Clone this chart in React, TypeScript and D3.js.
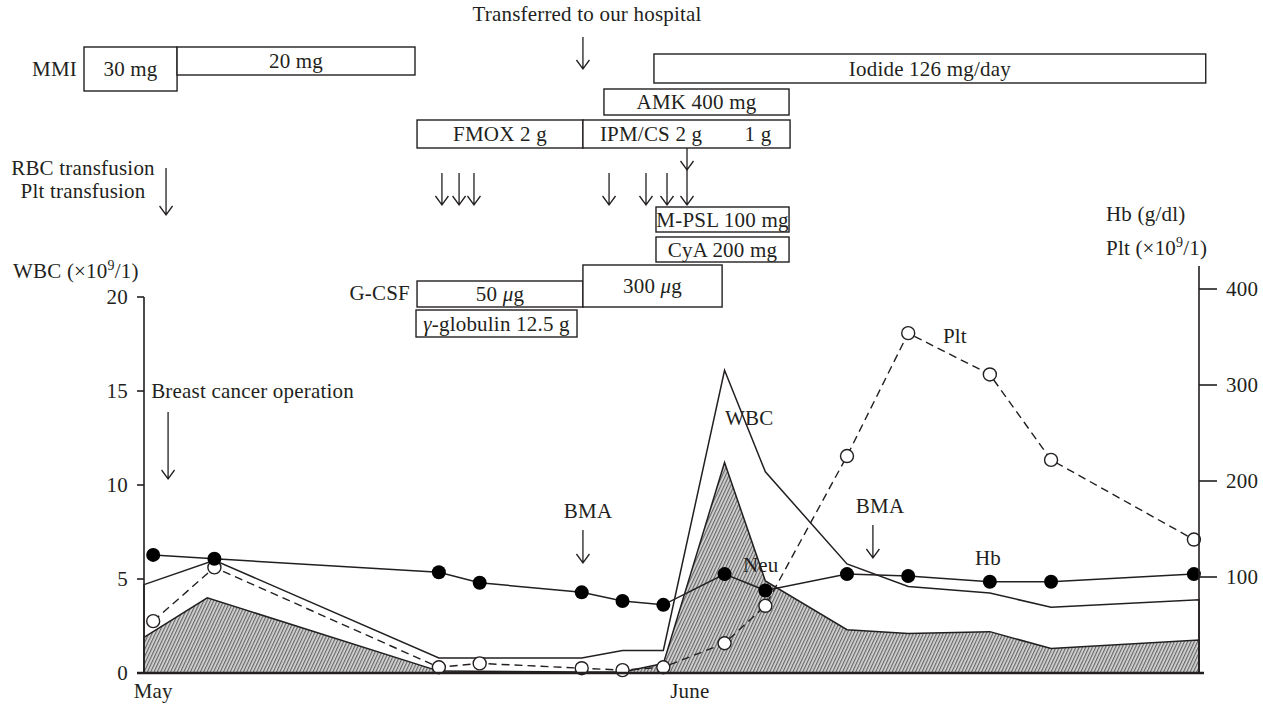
import React from "react";
import * as d3 from "d3";

const FONT = "'Liberation Serif', 'Times New Roman', serif";
const INK = "#231f20";

// sampling days, day 0 = first sample in May
const sampleDays = [0, 3, 14, 16, 21, 23, 25, 28, 30, 34, 37, 41, 44, 51];
const hbValues = [12.3, 11.9, 10.5, 9.4, 8.4, 7.5, 7.1, 10.3, 8.6, 10.3, 10.1, 9.5, 9.5, 10.3];
const pltValues = [54, 110, 6, 10, 5, 3, 6, 31, 70, 226, 354, 311, 222, 139];

const wbcDays = [-0.45, 3, 14, 21, 23, 25, 28, 30, 34, 37, 41, 44, 51.25];
const wbcValues = [4.7, 6.0, 0.8, 0.8, 1.2, 1.2, 16.1, 10.7, 5.8, 4.6, 4.25, 3.5, 3.9];
const neuDays = [-0.45, 2.65, 14, 21, 23, 25, 28, 30, 34, 37, 41, 44, 51.25];
const neuValues = [1.9, 4.0, 0.1, 0.05, 0.05, 0.5, 11.2, 4.9, 2.3, 2.1, 2.2, 1.3, 1.75];

const wbcTicks = [0, 5, 10, 15, 20];
const rightTicks = [100, 200, 300, 400];
const months = [
  { label: "May", day: 0 },
  { label: "June", day: 26.3 },
];

// treatment boxes (start / end in days)
const treatments = [
  { label: "30 mg", start: -3.39, end: 1.17, row: "mmi30" },
  { label: "20 mg", start: 1.17, end: 12.83, row: "mmi20" },
  { label: "Iodide 126 mg/day", start: 24.54, end: 51.58, row: "iodide" },
  { label: "AMK 400 mg", start: 22.09, end: 31.16, row: "amk" },
  { label: "FMOX 2 g", start: 12.93, end: 21.06, row: "abx" },
  { label: "", start: 21.06, end: 31.21, row: "abx" },
  { label: "M-PSL 100 mg", start: 24.64, end: 31.16, row: "mpsl" },
  { label: "CyA 200 mg", start: 24.64, end: 31.16, row: "cya" },
  { label: "50 μg", start: 12.93, end: 21.06, row: "gcsf50" },
  { label: "300 μg", start: 21.06, end: 27.88, row: "gcsf300" },
  { label: "γ-globulin 12.5 g", start: 12.88, end: 20.77, row: "glob" },
];
const boxNotes = [
  { label: "IPM/CS 2 g", day: 24.4, row: "abx" },
  { label: "1 g", day: 29.64, row: "abx" },
];

const rows: Record<string, [number, number]> = {
  mmi30: [47, 44],
  mmi20: [47, 28],
  iodide: [54, 29],
  amk: [89, 26],
  abx: [120, 28],
  mpsl: [207, 25],
  cya: [237, 25],
  gcsf50: [281, 26],
  gcsf300: [265, 42],
  glob: [310, 27],
};

// event arrows: day, top, bottom (px)
const arrows = [
  { day: 21.06, y1: 37, y2: 69 },
  { day: 0.63, y1: 168, y2: 215 },
  { day: 14.15, y1: 173, y2: 205 },
  { day: 14.99, y1: 173, y2: 205 },
  { day: 15.72, y1: 173, y2: 205 },
  { day: 22.34, y1: 173, y2: 205 },
  { day: 24.15, y1: 173, y2: 205 },
  { day: 25.18, y1: 173, y2: 205 },
  { day: 26.16, y1: 148, y2: 170 },
  { day: 26.16, y1: 170, y2: 205 },
  { day: 0.73, y1: 412, y2: 479 },
  { day: 21.06, y1: 530, y2: 563 },
  { day: 35.27, y1: 525, y2: 558 },
];

const notes = [
  { text: "Transferred to our hospital", day: 21.26, y: 21, anchor: "middle" },
  { text: "Breast cancer operation", day: -0.1, y: 398, anchor: "start" },
  { text: "BMA", day: 21.31, y: 518, anchor: "middle" },
  { text: "BMA", day: 35.62, y: 513, anchor: "middle" },
  { text: "WBC", day: 28.02, y: 425, anchor: "start" },
  { text: "Neu", day: 28.9, y: 572, anchor: "start" },
  { text: "Plt", day: 38.7, y: 343, anchor: "start" },
  { text: "Hb", day: 40.27, y: 565, anchor: "start" },
];

const renderLabel = (s: string) =>
  s.split(/([μγ])/).map((part, i) =>
    part === "μ" || part === "γ" ? (
      <tspan key={i} fontStyle="italic">
        {part}
      </tspan>
    ) : (
      <tspan key={i}>{part}</tspan>
    )
  );

const App = () => {
  const width = 1263;
  const height = 706;

  const x = d3.scaleLinear().domain([-0.45, 51.25]).range([144, 1199]);
  const yL = d3.scaleLinear().domain([0, 20]).range([673, 297]);
  const yR = d3.scaleLinear().domain([0, 400]).range([673, 289]);
  const yHb = d3.scaleLinear().domain([0, 40]).range([673, 289]);

  const wbcPts = wbcDays.map((d, i) => [d, wbcValues[i]] as [number, number]);
  const neuPts = neuDays.map((d, i) => [d, neuValues[i]] as [number, number]);
  const pltPts = sampleDays.map((d, i) => [d, pltValues[i]] as [number, number]);
  const hbPts = sampleDays.map((d, i) => [d, hbValues[i]] as [number, number]);

  const area = d3
    .area<[number, number]>()
    .x((d) => x(d[0]))
    .y0(yL(0))
    .y1((d) => yL(d[1]));
  const pltLine = d3
    .line<[number, number]>()
    .x((d) => x(d[0]))
    .y((d) => yR(d[1]));
  const hbLine = d3
    .line<[number, number]>()
    .x((d) => x(d[0]))
    .y((d) => yHb(d[1]));

  const arrowPath = (ax: number, y1: number, y2: number) =>
    `M ${ax} ${y1} V ${y2} M ${ax - 6.5} ${y2 - 9} L ${ax} ${y2} L ${ax + 6.5} ${y2 - 9}`;

  return (
    <svg
      width={width}
      height={height}
      style={{ position: "absolute", left: 0, top: 0, background: "#fff" }}
      fontFamily={FONT}
      fontSize={21}
      letterSpacing={0.2}
      fill={INK}
    >
      <defs>
        <pattern
          id="hatch"
          width="3"
          height="3"
          patternUnits="userSpaceOnUse"
          patternTransform="rotate(25)"
        >
          <rect width="3" height="3" fill="#d6d6d6" />
          <line x1="0.6" y1="0" x2="0.6" y2="3" stroke="#666" strokeWidth="1.2" />
        </pattern>
      </defs>

      {/* treatment boxes */}
      {treatments.map((t, i) => {
        const [top, h] = rows[t.row];
        const x0 = x(t.start);
        const x1 = x(t.end);
        return (
          <g key={i}>
            <rect x={x0} y={top} width={x1 - x0} height={h} fill="#fff" stroke={INK} strokeWidth={1.4} />
            {t.label && (
              <text x={(x0 + x1) / 2} y={top + h / 2 + 7} textAnchor="middle">
                {renderLabel(t.label)}
              </text>
            )}
          </g>
        );
      })}
      {boxNotes.map((n, i) => {
        const [top, h] = rows[n.row];
        return (
          <text key={i} x={x(n.day)} y={top + h / 2 + 7} textAnchor="middle">
            {n.label}
          </text>
        );
      })}

      {/* row titles */}
      <text x={77} y={76} textAnchor="end">MMI</text>
      <text x={83} y={175} textAnchor="middle">RBC transfusion</text>
      <text x={83} y={198} textAnchor="middle">Plt transfusion</text>
      <text x={410} y={300} textAnchor="end">G-CSF</text>

      {/* arrows */}
      {arrows.map((a, i) => (
        <path key={i} d={arrowPath(x(a.day), a.y1, a.y2)} fill="none" stroke={INK} strokeWidth={1.3} />
      ))}

      {/* WBC and Neu */}
      <path d={area(wbcPts) || ""} fill="none" stroke={INK} strokeWidth={1.5} />
      <path d={area(neuPts) || ""} fill="url(#hatch)" stroke={INK} strokeWidth={1.5} />

      {/* Plt and Hb lines */}
      <path d={pltLine(pltPts) || ""} fill="none" stroke={INK} strokeWidth={1.4} strokeDasharray="8,5" />
      <path d={hbLine(hbPts) || ""} fill="none" stroke={INK} strokeWidth={1.5} />
      {pltPts.map((d, i) => (
        <circle key={"p" + i} cx={x(d[0])} cy={yR(d[1])} r={6.5} fill="#fff" stroke={INK} strokeWidth={1.4} />
      ))}
      {hbPts.map((d, i) => (
        <circle key={"h" + i} cx={x(d[0])} cy={yHb(d[1])} r={7} fill="#000" />
      ))}

      {/* axes */}
      <line x1={144} x2={144} y1={yL(20)} y2={yL(0)} stroke={INK} strokeWidth={1.6} />
      {wbcTicks.map((t) => (
        <g key={t}>
          <line x1={137} x2={144} y1={yL(t)} y2={yL(t)} stroke={INK} strokeWidth={1.6} />
          <text x={128} y={yL(t) + 7} textAnchor="end">
            {t}
          </text>
        </g>
      ))}
      <line x1={1199} x2={1199} y1={yR(424)} y2={yR(0)} stroke={INK} strokeWidth={1.6} />
      {rightTicks.map((t) => (
        <g key={t}>
          <line x1={1199} x2={1217} y1={yR(t)} y2={yR(t)} stroke={INK} strokeWidth={1.6} />
          <text x={1226} y={yR(t) + 7} textAnchor="start">
            {t}
          </text>
        </g>
      ))}
      <line x1={137} x2={1204} y1={yL(0)} y2={yL(0)} stroke={INK} strokeWidth={2.6} />
      {months.map((m) => (
        <text key={m.label} x={x(m.day)} y={698} textAnchor="middle">
          {m.label}
        </text>
      ))}

      {/* axis titles */}
      <text x={13} y={278}>
        WBC (×10<tspan dy={-8} fontSize={14}>9</tspan>
        <tspan dy={8}>/1)</tspan>
      </text>
      <text x={1106} y={221}>Hb (g/dl)</text>
      <text x={1106} y={255}>
        Plt (×10<tspan dy={-8} fontSize={14}>9</tspan>
        <tspan dy={8}>/1)</tspan>
      </text>

      {/* annotations */}
      {notes.map((n, i) => (
        <text key={i} x={x(n.day)} y={n.y} textAnchor={n.anchor}>
          {n.text}
        </text>
      ))}
    </svg>
  );
};

export default App;
